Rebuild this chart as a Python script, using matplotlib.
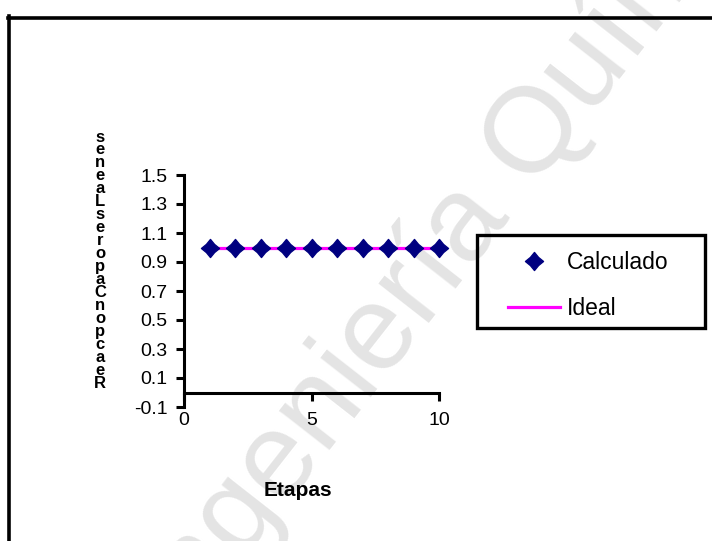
import numpy as np
import matplotlib
matplotlib.use("Agg")
import matplotlib.pyplot as plt
from matplotlib.path import Path
from matplotlib.lines import Line2D
from matplotlib.patches import Rectangle

# ---- data ----
etapas = [1, 2, 3, 4, 5, 6, 7, 8, 9, 10]
calculado = [1.0, 1.0, 1.0, 1.0, 1.0, 1.0, 1.0, 1.0, 1.0, 1.0]
ideal = [1.0, 1.0, 1.0, 1.0, 1.0, 1.0, 1.0, 1.0, 1.0, 1.0]
y_ticks = [-0.1, 0.1, 0.3, 0.5, 0.7, 0.9, 1.1, 1.3, 1.5]
x_ticks = [0, 5, 10]
ylabel_chars = ['s', 'e', 'n', 'e', 'a', 'L', 's', 'e', 'r', 'o',
                'p', 'a', 'C', 'n', 'o', 'p', 'c', 'a', 'e', 'R']
xlabel = "Etapas"
watermark = "Ingeniería Química"

plt.rcParams['font.family'] = ['Liberation Sans', 'DejaVu Sans']

W, H = 712, 541
fig = plt.figure(figsize=(W / 100, H / 100), dpi=100)
fig.patch.set_facecolor('white')

def fx(px):
    return px / W

def fy(py):
    return 1 - py / H

# watermark
fig.text(fx(495), fy(239), watermark, fontsize=87, color='#e4e4e4',
         rotation=52, rotation_mode='anchor', ha='center', va='baseline',
         zorder=-1)

# outer chart frame (cut off at right and bottom)
fig.add_artist(Line2D([fx(8), fx(712)], [fy(17.5), fy(17.5)], color='black', lw=2.6))
fig.add_artist(Line2D([fx(9), fx(9)], [fy(16), fy(541)], color='black', lw=2.6))

ax = fig.add_axes([fx(184), fy(407), fx(439) - fx(184), fy(175) - fy(407)])
ax.set_facecolor('none')
ax.set_xlim(0, 10)
ax.set_ylim(-0.1, 1.5)

star = Path([(0, 1), (0.45, 0.45), (1, 0), (0.45, -0.45), (0, -1),
             (-0.45, -0.45), (-1, 0), (-0.45, 0.45), (0, 1)],
            [Path.MOVETO] + [Path.LINETO] * 7 + [Path.CLOSEPOLY])

l_ideal, = ax.plot(etapas, ideal, color='#FF00FF', lw=2.3, zorder=2,
                   clip_on=False, label='Ideal')
l_calc, = ax.plot(etapas, calculado, linestyle='none', marker=star,
                  markersize=13, color='#000080', zorder=3, clip_on=False,
                  label='Calculado')

for s in ['top', 'right']:
    ax.spines[s].set_visible(False)
ax.spines['left'].set_linewidth(2.2)
ax.spines['bottom'].set_linewidth(2.2)
ax.spines['bottom'].set_position(('data', 0))

ax.set_yticks(y_ticks)
ax.set_yticklabels([f"{v:.1f}" for v in y_ticks])
ax.set_xticks(x_ticks)
ax.set_xticklabels([str(v) for v in x_ticks])
ax.tick_params(axis='both', direction='out', length=6, width=2.2,
               labelsize=14, pad=6)
ax.tick_params(axis='x', pad=8)

# stacked y label
y0, y1 = 137, 383
n = len(ylabel_chars)
for i, ch in enumerate(ylabel_chars):
    yy = y0 + (y1 - y0) * i / (n - 1)
    fig.text(fx(100), fy(yy), ch, fontsize=12, fontweight='bold',
             ha='center', va='center')

fig.text(fx(298), fy(490), xlabel, fontsize=15, fontweight='bold',
         ha='center', va='center')

# legend
fig.add_artist(Rectangle((fx(477), fy(328)), fx(705) - fx(477), fy(235) - fy(328),
                         transform=fig.transFigure, fill=False,
                         edgecolor='black', lw=2.4))
leg = ax.legend(handles=[l_calc, l_ideal], loc='upper left',
                bbox_to_anchor=(fx(508), fy(251)),
                bbox_transform=fig.transFigure, frameon=False,
                fontsize=16.5, borderpad=0, borderaxespad=0,
                handlelength=2.25, handletextpad=0.3, labelspacing=1.0)

fig.savefig('out.png', dpi=100)
